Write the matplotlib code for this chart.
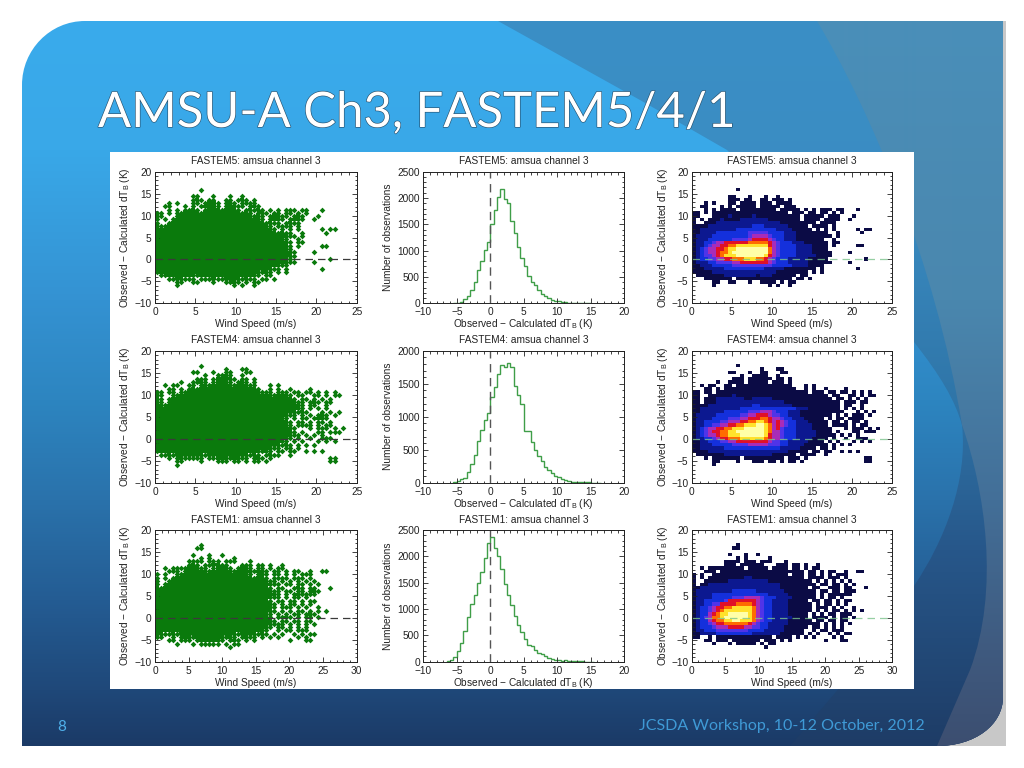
import numpy as np
import matplotlib
matplotlib.use("Agg")
import matplotlib.pyplot as plt
import matplotlib.patheffects as pe
from matplotlib.colors import ListedColormap, to_rgb
from matplotlib.patches import PathPatch, Rectangle
from matplotlib.path import Path
from matplotlib.ticker import MultipleLocator

plt.rcParams["font.family"] = ["Liberation Sans", "DejaVu Sans"]
plt.rcParams["mathtext.fontset"] = "custom"
plt.rcParams["mathtext.rm"] = "Liberation Sans"
plt.rcParams["mathtext.default"] = "rm"

# histogram counts, 0.5 K bins, first left edge given separately
f5_hist_start = -5.5
f5_hist = [5, 15, 30, 80, 130, 255, 410, 630, 800, 1010, 1170, 1500, 1780, 2020, 2180, 1975,
           1900, 1570, 1330, 1075, 855, 700, 520, 400, 350, 250, 175, 140, 95, 70, 50, 38,
           28, 18, 13, 10, 7, 5, 3, 2, 1]
f4_hist_start = -5.5
f4_hist = [5, 20, 50, 65, 155, 290, 420, 630, 800, 950, 1050, 1300, 1445, 1640, 1790, 1760,
           1820, 1760, 1465, 1330, 1190, 785, 780, 620, 495, 410, 330, 240, 190, 140, 100,
           80, 60, 40, 25, 18, 12, 9, 7, 5, 4, 3, 2, 1]
f1_hist_start = -6.5
f1_hist = [10, 30, 90, 210, 360, 580, 840, 1100, 1270, 1500, 1710, 1960, 2250, 2360, 2150,
           2000, 1760, 1480, 1270, 1080, 870, 700, 560, 440, 320, 290, 220, 160, 140, 110,
           70, 45, 35, 25, 20, 25, 15, 10, 7, 5, 4, 3, 2, 1]

# density per cell, 0 (.) empty to 9 peak
# one string per row, highest dT first, 50 columns by 40 rows over the axes
f5_bottom_row = 5
f5_density = [
    "...........1",
    "",
    ".........11...1...1..1",
    ".........111.11..11.111.1",
    "...1.1...11.1111.111.1111",
    "..11...1.1.11111.11111.111",
    "...1.1.1111.111111111.11111.1.1.111.11...1",
    "11.1.1111111111111111111.111.11.11.1.1",
    "11...1111211111211111111111.11111.111...1",
    "1.1.11121111222222211111111.1111.1111..1",
    "1..1112222222222222222111111111.1111",
    "11112222222222233322222211111.1111.1",
    "112222222223333333333222211111.1.1.1.....1.11",
    "11222233" + "333333" + "44444" + "33332221111111" + "1..1.....1",
    "12222333" + "333333" + "455554" + "33322211111111" + "1.1",
    "12223333" + "3344445" + "6666" + "54" + "33222111111" + "1..1",
    "12233455" + "666666" + "77777" + "65" + "4333222111111" + ".11",
    "1223455667788888888654333322221111.1.....11",
    "1234556678899999999754333322221111",
    "1234556778999999999754333322221111" + "1....1",
    "12344567888999999986543333222221111",
    "123344556677788877" + "6543332222211111" + ".........1",
    "122233444455666666654" + "33322222111111" + "....1",
    "112223333344444444443333322221111",
    "1112222233333333332222211111111.1........1",
    "11111222222222222222211111111.1.1",
    ".1111111222222221222111111.11",
    "...1111111.11111111111111.11.1",
    ".....11..11...1..1111.1.11",
    ".....1.............1.1..1",
]
f4_bottom_row = 5
f4_density = [
    "...........1",
    ".................1...11",
    ".........11...1..11...11",
    "............1..1111..1",
    "..........111.111111.11.1",
    "......1..1111.11111.111.1.",
    "..1.11..11.11111111111111...1.1",
    "...11.1.111111111111111111..1.1..1....1",
    "11.11.11111111111111111111111.111.11.11.1.1.1",
    "11..111111211111111111111111111111.11..11.1.11",
    "11.11122222221122222111111111111111.11.1.1.1",
    "11.1112222222222222222211111111111111.111.11",
    "1111222222222223322222222111111111111.11..1",
    "1122222222223333333333333322211111111.1.1.1.",
    "11222222" + "333333" + "4445554" + "33322211111111111" + "...1.1.1",
    "12222233" + "333344" + "5566654" + "4332221111111" + "1.1.1.111.1",
    "12222333" + "344455" + "6667765" + "54332221111" + "1.1.11.1111",
    "12233334" + "455566" + "7788765" + "654332221111" + "1.11.1.11.1",
    "12233445" + "566778" + "8899875" + "654332222111" + "1.1111.1.11",
    "12345566" + "778889" + "9999875" + "6433322221111" + "1...1.111.1.1",
    "12345667" + "788999" + "9999875" + "5433322222111" + "1.1...11.111",
    "12345567" + "788899" + "9999865" + "5433322222111" + "11.1.1.1",
    "12233456" + "677788" + "8888765" + "5433322221111" + ".1..1..111",
    "11223334" + "455666" + "6666654" + "43322222111" + "1.1.1...1.1.1.",
    "11222333" + "334444" + "5555544" + "4332222111111" + ".1.1.1",
    "1122222233333333333333222221111.11.1",
    "11112222222222222222222211111.11.11..1.1.1",
    ".1111111222222222222111111.1111..1",
    "...1.1111111.1111111111.111.1..............11",
    ".....11....1...111.11.1.11.1...............11",
    ".....1",
]
f1_bottom_row = 4
f1_density = [
    "...........1",
    "..........11",
    "",
    ".........1...1..1",
    "...........1.1.....1",
    "........1111.111.111...1",
    "........111.111111...111.11.1..1",
    "..1.111111111.11111.1111.11.1.11",
    "...111.111111111111111111111.11.1.11..1..11",
    "1.1..1111111111111111111.111.11.1.1.111",
    "1.1.111111111221111111111111.1111.111.1",
    "1..111111222222222211111111111.1.1.1.1.1",
    "1.11222222222222222222111111111.11.11.1.1",
    "11222222222222222222221111111.11..111.11...1",
    "1222222222333333222222211111111.11.11.111",
    "1222233333333333333222221111111.1.111111",
    "1222233333" + "44455554" + "33322221111" + "11.1.11.1",
    "122333334" + "6666666" + "5433" + "22221111" + "1.11.11.1.11",
    "1223344" + "666677776" + "5433" + "22221111" + "11.1.11.1.1",
    "123345" + "667788888" + "75" + "433" + "22221111" + "11.111.1.1..1",
    "1233456788888887543322221111" + "11.1.1.11.1.1.1",
    "1233567889999987543322221111" + "1.1.1.11.111",
    "1234577899999987543322222111" + "1.1111.1.11.1",
    "12335677889988875433222211111" + "1.11.11.11",
    "1233456677777765433222221111111" + "1.1.1.1.1",
    "12333455566665544332222111111.11.1.1.1",
    "1223334444444433332222211111..1.11.111",
    "1122223333333332222222111111.1.1..1.1.11",
    "11..1.11111111111111.1111.1.1.1....1.1",
    "...11.111.1111111.111.1.1........1...11",
    ".....1...1.11111.1.11",
    "..................1",
]

schemes = ["FASTEM5", "FASTEM4", "FASTEM1"]
wind_max = [25, 25, 30]
hist_max = [2500, 2000, 2500]
densities = [f5_density, f4_density, f1_density]
bottom_rows = [f5_bottom_row, f4_bottom_row, f1_bottom_row]
hists = [f5_hist, f4_hist, f1_hist]
hist_starts = [f5_hist_start, f4_hist_start, f1_hist_start]

level_colors = ["#ffffff", "#0b0b45", "#0c1890", "#1430dc", "#5034e8", "#a82cb8",
                "#e01028", "#ff6c00", "#ffe22c", "#ffffa8"]

col_px = [(155, 356.7), (423.3, 624.3), (691.7, 892.3)]
row_px = [(171.7, 303.3), (350.7, 482.7), (530, 661.7)]
ylabel_x = [-0.15, -0.175, -0.145]

ylabel_scatter = "Observed \u2212 Calculated dT$_{B}$ (K)"
xlabel_hist = "Observed \u2212 Calculated dT$_{B}$ (K)"
xlabel_wind = "Wind Speed (m/s)"
ylabel_hist = "Number of observations"
label_size = 7.3


def density_grid(rows, bottom_row):
    grid = np.zeros((40, 50), dtype=int)
    top = bottom_row + len(rows) - 1
    for i, row in enumerate(rows):
        row = row[:50].ljust(50, ".").replace(".", "0")
        grid[top - i] = [int(c) for c in row]
    return grid


def gradient(ax, stops, clip):
    ys = [s[0] for s in stops]
    cols = np.array([to_rgb(s[1]) for s in stops])
    yy = np.arange(768)
    img = np.stack([np.interp(yy, ys, cols[:, i]) for i in range(3)], axis=1)[:, None, :]
    im = ax.imshow(img, extent=(0, 1024, 768, 0), aspect="auto", interpolation="bilinear")
    im.set_clip_path(PathPatch(clip, transform=ax.transData))


def make_axes(col, row):
    x0, x1 = col_px[col]
    y0, y1 = row_px[row]
    ax = fig.add_axes([x0 / 1024, 1 - y1 / 768, (x1 - x0) / 1024, (y1 - y0) / 768])
    ax.tick_params(which="both", direction="in", top=True, right=True, width=0.6,
                   labelsize=label_size, colors="#222222")
    ax.tick_params(axis="x", which="major", pad=3)
    ax.tick_params(axis="y", which="major", pad=2.5)
    ax.tick_params(which="major", length=3.5)
    ax.tick_params(which="minor", length=1.8)
    for s in ax.spines.values():
        s.set_linewidth(0.7)
        s.set_color("#222222")
    ax.xaxis.set_major_locator(MultipleLocator(5))
    ax.xaxis.set_minor_locator(MultipleLocator(1))
    ax.yaxis.set_major_locator(MultipleLocator(5))
    ax.yaxis.set_minor_locator(MultipleLocator(1))
    ax.set_title(ax_title, fontsize=label_size, y=1.04, pad=0, color="#222222", va="bottom")
    ax.yaxis.set_label_coords(ylabel_x[col], 0.5)
    ax.xaxis.set_label_coords(0.5, -0.16)
    return ax


def wind_labels(ax):
    ax.set_xlabel(xlabel_wind, fontsize=label_size, color="#222222", va="center")
    ax.set_ylabel(ylabel_scatter, fontsize=label_size, color="#222222", va="center")


fig = plt.figure(figsize=(10.24, 7.68), dpi=100, facecolor="white")

# slide background
bg = fig.add_axes([0, 0, 1, 1])
bg.add_patch(Rectangle((900, 21), 106, 725, facecolor="#c8c8c8", edgecolor="none", zorder=-1))

C4 = Path.CURVE4
L = Path.LINETO
M = Path.MOVETO
slide = Path(
    [(22, 85), (22, 50), (50, 21), (85, 21), (1003, 21), (1003, 697), (1003, 725), (975, 746),
     (937, 746), (22, 746), (22, 85)],
    [M, C4, C4, C4, L, L, C4, C4, C4, L, L])
gradient(bg, [(21, "#3aabec"), (150, "#39a8e8"), (300, "#3492d2"), (400, "#2d85c0"),
              (500, "#2a72ab"), (600, "#245c93"), (690, "#1f4879"), (746, "#1b3a66")], slide)

dark_zone = Path(
    [(498, 21), (640, 100), (727, 150), (914, 342), (940, 375), (955, 400), (962, 425),
     (968, 480), (945, 540), (914, 586), (880, 640), (790, 746), (937, 746),
     (975, 746), (1003, 725), (1003, 697), (1003, 21), (498, 21)],
    [M, L, L, L, C4, C4, C4, C4, C4, C4, L, L, L, C4, C4, C4, L, L])
gradient(bg, [(21, "#3b8fc6"), (200, "#3a8cc2"), (400, "#2f75a8"), (550, "#27578a"),
              (746, "#1e3c66")], dark_zone)

grey_zone = Path(
    [(817, 21), (870, 110), (935, 260), (962, 425), (985, 490), (1000, 590), (970, 670),
     (937, 746), (975, 746), (1003, 725), (1003, 697), (1003, 21), (817, 21)],
    [M, C4, C4, C4, C4, C4, C4, L, C4, C4, C4, L, L])
gradient(bg, [(21, "#4a8fb9"), (300, "#4a87ae"), (500, "#436f98"), (650, "#3f5a7f"),
              (746, "#3c4e70")], grey_zone)

bg.add_patch(Rectangle((110, 152), 804, 537, facecolor="white", edgecolor="none", zorder=2))
bg.set_xlim(0, 1024)
bg.set_ylim(768, 0)
bg.axis("off")

bg.text(98, 127, "AMSU-A Ch3, FASTEM5/4/1", fontsize=35.3, family="Lato",
        color="white", ha="left", va="baseline",
        path_effects=[pe.withStroke(linewidth=0.9, foreground="#26506e")])
bg.text(62, 727, "8", fontsize=11, family="Lato", color="#4fb0ea", ha="center", va="center")
bg.text(639, 726, "JCSDA Workshop, 10-12 October, 2012", fontsize=11.5, family="Lato",
        color="#3f9ad6", ha="left", va="center")

for row in range(3):
    ax_title = schemes[row] + ": amsua channel 3"
    grid = density_grid(densities[row], bottom_rows[row])
    xedges = np.linspace(0, wind_max[row], 51)
    yedges = np.linspace(-10, 20, 41)
    xc = 0.5 * (xedges[:-1] + xedges[1:])
    yc = 0.5 * (yedges[:-1] + yedges[1:])

    # left: every filled cell is shown as a point, cells with all neighbours filled are solid
    ax = make_axes(0, row)
    filled = grid > 0
    solid = filled.copy()
    solid[1:, :] &= filled[:-1, :]
    solid[:-1, :] &= filled[1:, :]
    solid[:, 1:] &= filled[:, :-1]
    solid[:, :-1] &= filled[:, 1:]
    ax.pcolormesh(xedges, yedges, np.ma.masked_where(~solid, solid.astype(float)),
                  cmap=ListedColormap(["#0a7a0c"]), rasterized=True)
    jj, ii = np.nonzero(grid)
    ax.plot(xc[ii], yc[jj], ls="none", marker="D", ms=2.9, color="#0a7a0c", mew=0)
    ax.plot([0, wind_max[row]], [0, 0], color="#3a3a3a", lw=0.9, dashes=(6, 4))
    ax.set_xlim(0, wind_max[row])
    ax.set_ylim(-10, 20)
    wind_labels(ax)

    # middle: histogram
    ax = make_axes(1, row)
    counts = np.array(hists[row])
    edges = hist_starts[row] + 0.5 * np.arange(len(counts) + 1)
    ax.stairs(counts, edges, color="#3f9e48", lw=1.0)
    ax.plot([0, 0], [0, hist_max[row]], color="#555555", lw=1.0, dashes=(6, 4))
    ax.set_xlim(-10, 20)
    ax.set_ylim(0, hist_max[row])
    ax.yaxis.set_major_locator(MultipleLocator(500))
    ax.yaxis.set_minor_locator(MultipleLocator(100))
    ax.set_xlabel(xlabel_hist, fontsize=label_size, color="#222222", va="center")
    ax.set_ylabel(ylabel_hist, fontsize=label_size, color="#222222", va="center")

    # right: density
    ax = make_axes(2, row)
    cmap = ListedColormap(level_colors)
    ax.pcolormesh(xedges, yedges, grid, cmap=cmap, vmin=-0.5, vmax=9.5, rasterized=True)
    ax.plot([0, wind_max[row]], [0, 0], color="#7cc48c", lw=0.9, alpha=0.8, dashes=(6, 4))
    ax.set_xlim(0, wind_max[row])
    ax.set_ylim(-10, 20)
    wind_labels(ax)

fig.savefig("out.png", dpi=100)
